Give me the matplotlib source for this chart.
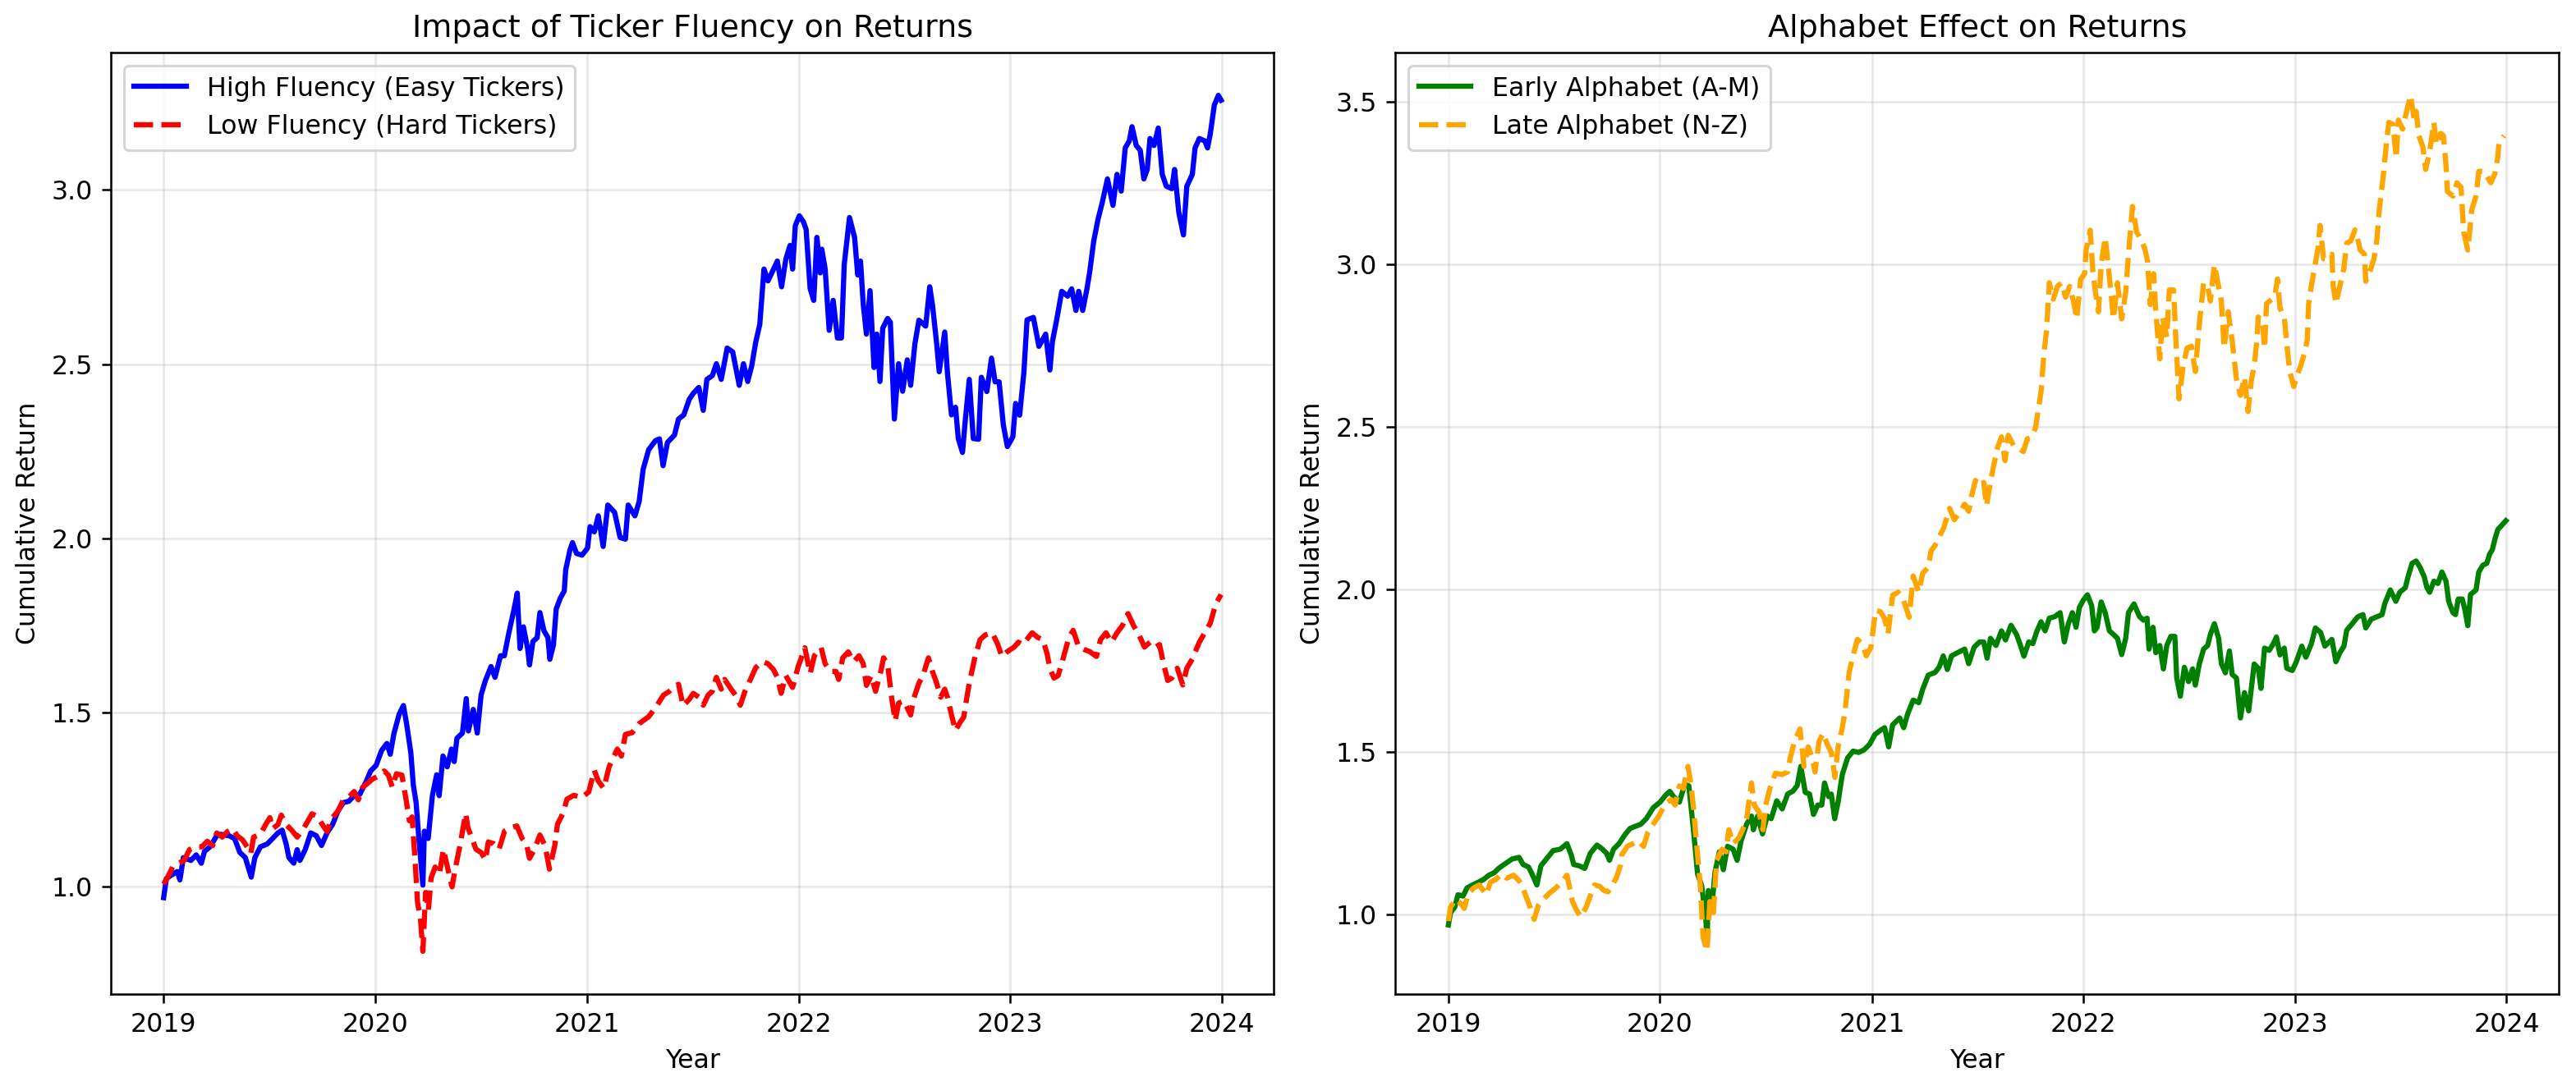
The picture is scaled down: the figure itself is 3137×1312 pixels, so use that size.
import matplotlib
matplotlib.use('Agg')
import matplotlib.pyplot as plt
import numpy as np
import pandas as pd

# values, time as decimal year
high_t = [2019.000, 2019.013, 2019.032, 2019.064, 2019.077, 2019.093, 2019.129, 2019.154, 2019.178, 2019.193,
          2019.219, 2019.251, 2019.270, 2019.309, 2019.335, 2019.360, 2019.386, 2019.414, 2019.431, 2019.457,
          2019.489, 2019.515, 2019.540, 2019.560, 2019.579, 2019.592, 2019.615, 2019.631, 2019.644, 2019.669,
          2019.695, 2019.721, 2019.746, 2019.772, 2019.798, 2019.824, 2019.849, 2019.875, 2019.900, 2019.927,
          2019.959, 2019.978, 2020.004, 2020.030, 2020.055, 2020.071, 2020.088, 2020.113, 2020.133, 2020.148,
          2020.168, 2020.180, 2020.193, 2020.206, 2020.225, 2020.232, 2020.250, 2020.270, 2020.290, 2020.302,
          2020.320, 2020.340, 2020.360, 2020.373, 2020.386, 2020.412, 2020.430, 2020.440, 2020.463, 2020.482,
          2020.500, 2020.520, 2020.547, 2020.566, 2020.592, 2020.610, 2020.630, 2020.656, 2020.671, 2020.684,
          2020.700, 2020.720, 2020.729, 2020.745, 2020.765, 2020.778, 2020.797, 2020.816, 2020.825, 2020.842,
          2020.855, 2020.874, 2020.893, 2020.900, 2020.920, 2020.932, 2020.951, 2020.977, 2021.003, 2021.015,
          2021.035, 2021.054, 2021.077, 2021.099, 2021.131, 2021.157, 2021.182, 2021.195, 2021.227, 2021.247,
          2021.266, 2021.292, 2021.324, 2021.343, 2021.360, 2021.381, 2021.414, 2021.433, 2021.458, 2021.484,
          2021.503, 2021.529, 2021.550, 2021.567, 2021.593, 2021.612, 2021.635, 2021.663, 2021.689, 2021.720,
          2021.740, 2021.760, 2021.779, 2021.798, 2021.817, 2021.837, 2021.856, 2021.882, 2021.900, 2021.920,
          2021.940, 2021.960, 2021.972, 2021.985, 2022.004, 2022.023, 2022.036, 2022.055, 2022.072, 2022.087,
          2022.103, 2022.110, 2022.126, 2022.145, 2022.164, 2022.184, 2022.203, 2022.216, 2022.241, 2022.265,
          2022.280, 2022.293, 2022.306, 2022.321, 2022.338, 2022.357, 2022.370, 2022.385, 2022.398, 2022.421,
          2022.434, 2022.453, 2022.473, 2022.492, 2022.514, 2022.530, 2022.550, 2022.569, 2022.601, 2022.620,
          2022.633, 2022.653, 2022.665, 2022.691, 2022.704, 2022.723, 2022.742, 2022.755, 2022.775, 2022.787,
          2022.807, 2022.826, 2022.851, 2022.864, 2022.890, 2022.912, 2022.929, 2022.948, 2022.968, 2022.987,
          2023.013, 2023.026, 2023.045, 2023.065, 2023.080, 2023.110, 2023.136, 2023.168, 2023.188, 2023.200,
          2023.220, 2023.244, 2023.272, 2023.291, 2023.311, 2023.324, 2023.343, 2023.363, 2023.376, 2023.395,
          2023.415, 2023.435, 2023.460, 2023.486, 2023.505, 2023.525, 2023.544, 2023.563, 2023.576, 2023.596,
          2023.615, 2023.632, 2023.648, 2023.661, 2023.680, 2023.700, 2023.719, 2023.738, 2023.764, 2023.777,
          2023.797, 2023.819, 2023.835, 2023.861, 2023.874, 2023.894, 2023.920, 2023.933, 2023.946, 2023.965,
          2023.984, 2023.997]
high_v = [0.967, 1.022, 1.030, 1.042, 1.018, 1.082, 1.074, 1.090, 1.066, 1.100,
          1.113, 1.145, 1.149, 1.145, 1.137, 1.097, 1.082, 1.026, 1.082, 1.113,
          1.121, 1.137, 1.153, 1.161, 1.121, 1.082, 1.066, 1.105, 1.074, 1.105,
          1.153, 1.145, 1.117, 1.153, 1.177, 1.216, 1.240, 1.244, 1.260, 1.264,
          1.303, 1.331, 1.347, 1.390, 1.410, 1.379, 1.438, 1.494, 1.519, 1.467,
          1.384, 1.290, 1.240, 1.137, 1.003, 1.158, 1.137, 1.260, 1.320, 1.260,
          1.374, 1.343, 1.394, 1.358, 1.425, 1.440, 1.539, 1.446, 1.508, 1.440,
          1.549, 1.590, 1.631, 1.600, 1.662, 1.662, 1.724, 1.796, 1.842, 1.683,
          1.745, 1.683, 1.636, 1.703, 1.714, 1.786, 1.734, 1.714, 1.652, 1.693,
          1.796, 1.827, 1.848, 1.909, 1.966, 1.987, 1.956, 1.951, 1.971, 2.033,
          2.018, 2.064, 1.976, 2.095, 2.074, 2.002, 1.997, 2.095, 2.064, 2.105,
          2.198, 2.254, 2.280, 2.285, 2.208, 2.275, 2.296, 2.342, 2.354, 2.399,
          2.416, 2.433, 2.367, 2.456, 2.467, 2.501, 2.456, 2.546, 2.535, 2.439,
          2.501, 2.450, 2.495, 2.563, 2.614, 2.773, 2.739, 2.773, 2.796, 2.722,
          2.801, 2.841, 2.773, 2.898, 2.926, 2.909, 2.887, 2.717, 2.683, 2.864,
          2.762, 2.830, 2.773, 2.597, 2.683, 2.575, 2.575, 2.785, 2.921, 2.864,
          2.756, 2.796, 2.671, 2.586, 2.711, 2.490, 2.586, 2.450, 2.603, 2.631,
          2.620, 2.342, 2.501, 2.422, 2.512, 2.439, 2.558, 2.626, 2.609, 2.722,
          2.671, 2.558, 2.478, 2.592, 2.473, 2.354, 2.376, 2.286, 2.246, 2.331,
          2.456, 2.286, 2.284, 2.462, 2.421, 2.517, 2.449, 2.449, 2.325, 2.263,
          2.291, 2.387, 2.353, 2.476, 2.627, 2.634, 2.551, 2.586, 2.483, 2.565,
          2.627, 2.709, 2.695, 2.716, 2.654, 2.709, 2.654, 2.716, 2.764, 2.853,
          2.915, 2.963, 3.032, 2.956, 3.045, 2.997, 3.121, 3.141, 3.182, 3.128,
          3.114, 3.032, 3.059, 3.148, 3.128, 3.178, 3.045, 3.011, 3.004, 3.059,
          2.936, 2.871, 3.011, 3.045, 3.121, 3.148, 3.141, 3.121, 3.162, 3.244,
          3.272, 3.258]

low_t = [2019.000, 2019.019, 2019.045, 2019.071, 2019.097, 2019.122, 2019.154, 2019.180, 2019.206, 2019.232,
         2019.251, 2019.277, 2019.302, 2019.328, 2019.347, 2019.373, 2019.399, 2019.412, 2019.425, 2019.457,
         2019.482, 2019.502, 2019.515, 2019.540, 2019.556, 2019.579, 2019.605, 2019.631, 2019.656, 2019.676,
         2019.701, 2019.727, 2019.746, 2019.772, 2019.792, 2019.824, 2019.849, 2019.875, 2019.900, 2019.920,
         2019.940, 2019.965, 2019.985, 2020.010, 2020.042, 2020.062, 2020.081, 2020.100, 2020.126, 2020.148,
         2020.161, 2020.174, 2020.187, 2020.200, 2020.213, 2020.225, 2020.238, 2020.251, 2020.264, 2020.283,
         2020.303, 2020.322, 2020.341, 2020.363, 2020.376, 2020.400, 2020.427, 2020.438, 2020.457, 2020.476,
         2020.502, 2020.521, 2020.534, 2020.560, 2020.585, 2020.611, 2020.643, 2020.669, 2020.694, 2020.714,
         2020.729, 2020.752, 2020.778, 2020.803, 2020.823, 2020.848, 2020.861, 2020.887, 2020.906, 2020.938,
         2020.977, 2021.009, 2021.035, 2021.054, 2021.080, 2021.105, 2021.144, 2021.163, 2021.182, 2021.214,
         2021.247, 2021.292, 2021.330, 2021.362, 2021.388, 2021.414, 2021.433, 2021.455, 2021.484, 2021.503,
         2021.529, 2021.550, 2021.573, 2021.593, 2021.612, 2021.635, 2021.651, 2021.676, 2021.702, 2021.725,
         2021.747, 2021.773, 2021.798, 2021.830, 2021.856, 2021.882, 2021.900, 2021.918, 2021.940, 2021.972,
         2021.997, 2022.030, 2022.055, 2022.075, 2022.107, 2022.126, 2022.152, 2022.177, 2022.190, 2022.209,
         2022.235, 2022.261, 2022.286, 2022.306, 2022.321, 2022.344, 2022.364, 2022.389, 2022.402, 2022.421,
         2022.441, 2022.457, 2022.473, 2022.498, 2022.530, 2022.543, 2022.569, 2022.588, 2022.614, 2022.633,
         2022.653, 2022.672, 2022.691, 2022.704, 2022.723, 2022.742, 2022.762, 2022.781, 2022.794, 2022.807,
         2022.832, 2022.858, 2022.883, 2022.916, 2022.942, 2022.961, 2022.987, 2023.019, 2023.039, 2023.058,
         2023.078, 2023.104, 2023.130, 2023.155, 2023.175, 2023.188, 2023.207, 2023.227, 2023.253, 2023.278,
         2023.298, 2023.324, 2023.350, 2023.376, 2023.408, 2023.427, 2023.453, 2023.479, 2023.505, 2023.531,
         2023.557, 2023.583, 2023.609, 2023.635, 2023.661, 2023.687, 2023.706, 2023.725, 2023.745, 2023.764,
         2023.790, 2023.816, 2023.835, 2023.861, 2023.894, 2023.920, 2023.946, 2023.972, 2023.997]
low_v = [1.006, 1.026, 1.058, 1.066, 1.074, 1.105, 1.113, 1.113, 1.129, 1.117,
         1.153, 1.141, 1.157, 1.165, 1.145, 1.133, 1.109, 1.094, 1.141, 1.149,
         1.177, 1.197, 1.165, 1.177, 1.204, 1.177, 1.161, 1.141, 1.161, 1.181,
         1.208, 1.200, 1.181, 1.157, 1.193, 1.216, 1.248, 1.256, 1.272, 1.248,
         1.284, 1.296, 1.307, 1.315, 1.331, 1.319, 1.284, 1.323, 1.319, 1.240,
         1.188, 1.199, 1.085, 0.952, 0.911, 0.813, 0.982, 0.931, 1.024, 1.055,
         1.034, 1.106, 1.055, 0.998, 1.044, 1.116, 1.209, 1.168, 1.137, 1.106,
         1.096, 1.075, 1.127, 1.122, 1.106, 1.158, 1.168, 1.173, 1.137, 1.122,
         1.080, 1.106, 1.147, 1.116, 1.049, 1.116, 1.178, 1.209, 1.250, 1.261,
         1.255, 1.271, 1.333, 1.302, 1.281, 1.343, 1.394, 1.374, 1.436, 1.441,
         1.467, 1.487, 1.518, 1.549, 1.559, 1.575, 1.580, 1.518, 1.537, 1.554,
         1.543, 1.520, 1.549, 1.560, 1.600, 1.566, 1.594, 1.571, 1.549, 1.520,
         1.560, 1.594, 1.628, 1.645, 1.639, 1.622, 1.600, 1.554, 1.605, 1.571,
         1.628, 1.685, 1.611, 1.662, 1.685, 1.639, 1.617, 1.617, 1.594, 1.656,
         1.673, 1.645, 1.662, 1.639, 1.577, 1.605, 1.560, 1.617, 1.656, 1.639,
         1.537, 1.475, 1.526, 1.532, 1.492, 1.537, 1.583, 1.605, 1.656, 1.617,
         1.583, 1.543, 1.566, 1.543, 1.492, 1.447, 1.469, 1.486, 1.537, 1.583,
         1.653, 1.708, 1.722, 1.728, 1.694, 1.660, 1.674, 1.687, 1.701, 1.694,
         1.708, 1.728, 1.715, 1.708, 1.667, 1.626, 1.598, 1.605, 1.660, 1.715,
         1.735, 1.687, 1.680, 1.674, 1.660, 1.708, 1.728, 1.701, 1.728, 1.749,
         1.783, 1.749, 1.722, 1.687, 1.701, 1.687, 1.694, 1.639, 1.591, 1.598,
         1.626, 1.578, 1.626, 1.653, 1.701, 1.728, 1.756, 1.811, 1.838]

early_t = [2019.000, 2019.010, 2019.030, 2019.045, 2019.069, 2019.088, 2019.114, 2019.140, 2019.166, 2019.191,
           2019.217, 2019.237, 2019.263, 2019.301, 2019.334, 2019.353, 2019.379, 2019.398, 2019.418, 2019.437,
           2019.463, 2019.495, 2019.528, 2019.560, 2019.580, 2019.592, 2019.618, 2019.644, 2019.670, 2019.702,
           2019.728, 2019.748, 2019.761, 2019.780, 2019.806, 2019.832, 2019.858, 2019.890, 2019.909, 2019.935,
           2019.968, 2020.000, 2020.026, 2020.046, 2020.065, 2020.091, 2020.117, 2020.136, 2020.151, 2020.164,
           2020.177, 2020.196, 2020.216, 2020.222, 2020.228, 2020.248, 2020.260, 2020.280, 2020.299, 2020.319,
           2020.345, 2020.364, 2020.383, 2020.409, 2020.432, 2020.441, 2020.461, 2020.484, 2020.506, 2020.525,
           2020.551, 2020.577, 2020.603, 2020.628, 2020.648, 2020.665, 2020.686, 2020.706, 2020.725, 2020.745,
           2020.764, 2020.777, 2020.796, 2020.809, 2020.825, 2020.841, 2020.861, 2020.886, 2020.912, 2020.938,
           2020.964, 2020.990, 2021.015, 2021.041, 2021.061, 2021.080, 2021.099, 2021.132, 2021.151, 2021.170,
           2021.196, 2021.222, 2021.241, 2021.267, 2021.299, 2021.319, 2021.338, 2021.357, 2021.377, 2021.403,
           2021.439, 2021.458, 2021.484, 2021.510, 2021.529, 2021.545, 2021.561, 2021.587, 2021.613, 2021.632,
           2021.658, 2021.684, 2021.703, 2021.719, 2021.742, 2021.761, 2021.781, 2021.800, 2021.819, 2021.839,
           2021.865, 2021.890, 2021.910, 2021.929, 2021.948, 2021.965, 2021.981, 2022.000, 2022.019, 2022.039,
           2022.052, 2022.065, 2022.084, 2022.103, 2022.123, 2022.142, 2022.161, 2022.181, 2022.200, 2022.213,
           2022.239, 2022.265, 2022.284, 2022.301, 2022.310, 2022.329, 2022.342, 2022.361, 2022.378, 2022.394,
           2022.413, 2022.432, 2022.441, 2022.458, 2022.477, 2022.497, 2022.516, 2022.529, 2022.548, 2022.568,
           2022.587, 2022.600, 2022.619, 2022.639, 2022.652, 2022.671, 2022.690, 2022.703, 2022.723, 2022.742,
           2022.761, 2022.781, 2022.807, 2022.826, 2022.839, 2022.856, 2022.878, 2022.897, 2022.912, 2022.929,
           2022.949, 2022.961, 2022.987, 2023.006, 2023.032, 2023.051, 2023.077, 2023.096, 2023.121, 2023.141,
           2023.174, 2023.193, 2023.212, 2023.231, 2023.244, 2023.270, 2023.296, 2023.321, 2023.334, 2023.360,
           2023.386, 2023.411, 2023.424, 2023.450, 2023.476, 2023.495, 2023.521, 2023.534, 2023.553, 2023.572,
           2023.591, 2023.610, 2023.623, 2023.636, 2023.656, 2023.675, 2023.694, 2023.713, 2023.726, 2023.746,
           2023.758, 2023.771, 2023.790, 2023.803, 2023.816, 2023.829, 2023.842, 2023.855, 2023.868, 2023.887,
           2023.906, 2023.919, 2023.932, 2023.945, 2023.958, 2023.977, 2023.996]
early_v = [0.968, 1.006, 1.023, 1.061, 1.057, 1.082, 1.091, 1.099, 1.108, 1.121,
           1.129, 1.142, 1.154, 1.171, 1.176, 1.154, 1.146, 1.121, 1.091, 1.150,
           1.171, 1.197, 1.201, 1.218, 1.184, 1.154, 1.150, 1.142, 1.188, 1.214,
           1.201, 1.188, 1.167, 1.201, 1.218, 1.244, 1.265, 1.273, 1.278, 1.295,
           1.329, 1.346, 1.367, 1.379, 1.362, 1.346, 1.401, 1.396, 1.303, 1.218,
           1.125, 1.091, 0.989, 0.912, 1.074, 1.048, 1.133, 1.193, 1.138, 1.210,
           1.201, 1.167, 1.227, 1.278, 1.303, 1.261, 1.303, 1.248, 1.303, 1.295,
           1.350, 1.325, 1.371, 1.380, 1.397, 1.456, 1.376, 1.371, 1.308, 1.337,
           1.337, 1.405, 1.363, 1.371, 1.295, 1.346, 1.431, 1.482, 1.503, 1.499,
           1.507, 1.524, 1.554, 1.567, 1.575, 1.516, 1.584, 1.605, 1.575, 1.618,
           1.660, 1.652, 1.694, 1.737, 1.745, 1.762, 1.796, 1.754, 1.796, 1.805,
           1.817, 1.772, 1.823, 1.839, 1.839, 1.789, 1.850, 1.828, 1.873, 1.845,
           1.890, 1.862, 1.828, 1.795, 1.839, 1.834, 1.873, 1.901, 1.873, 1.912,
           1.917, 1.929, 1.839, 1.895, 1.929, 1.884, 1.945, 1.968, 1.984, 1.951,
           1.873, 1.884, 1.962, 1.929, 1.873, 1.862, 1.850, 1.800, 1.850, 1.929,
           1.956, 1.917, 1.906, 1.912, 1.817, 1.884, 1.806, 1.828, 1.756, 1.828,
           1.856, 1.856, 1.728, 1.672, 1.761, 1.717, 1.756, 1.706, 1.772, 1.817,
           1.828, 1.862, 1.895, 1.850, 1.772, 1.744, 1.811, 1.739, 1.728, 1.605,
           1.683, 1.627, 1.771, 1.758, 1.696, 1.820, 1.813, 1.833, 1.854, 1.799,
           1.820, 1.758, 1.751, 1.778, 1.826, 1.792, 1.833, 1.882, 1.868, 1.826,
           1.847, 1.778, 1.806, 1.826, 1.875, 1.895, 1.916, 1.923, 1.882, 1.909,
           1.916, 1.923, 1.957, 1.999, 1.964, 1.992, 2.006, 2.040, 2.081, 2.088,
           2.068, 2.040, 2.006, 1.992, 2.026, 2.019, 2.054, 2.026, 1.964, 1.929,
           1.923, 1.971, 1.971, 1.937, 1.889, 1.985, 1.992, 1.999, 2.054, 2.075,
           2.081, 2.109, 2.123, 2.157, 2.185, 2.198, 2.212]

late_t = [2019.000, 2019.010, 2019.036, 2019.062, 2019.075, 2019.094, 2019.120, 2019.146, 2019.179, 2019.198,
          2019.224, 2019.250, 2019.276, 2019.308, 2019.334, 2019.347, 2019.366, 2019.386, 2019.405, 2019.424,
          2019.450, 2019.476, 2019.508, 2019.534, 2019.560, 2019.573, 2019.586, 2019.605, 2019.625, 2019.651,
          2019.670, 2019.690, 2019.715, 2019.735, 2019.754, 2019.773, 2019.793, 2019.812, 2019.819, 2019.845,
          2019.871, 2019.896, 2019.922, 2019.942, 2019.968, 2019.994, 2020.026, 2020.052, 2020.071, 2020.091,
          2020.110, 2020.132, 2020.145, 2020.158, 2020.170, 2020.190, 2020.203, 2020.222, 2020.235, 2020.252,
          2020.267, 2020.293, 2020.312, 2020.325, 2020.345, 2020.371, 2020.390, 2020.409, 2020.432, 2020.445,
          2020.467, 2020.486, 2020.499, 2020.519, 2020.545, 2020.577, 2020.603, 2020.615, 2020.635, 2020.661,
          2020.680, 2020.700, 2020.719, 2020.732, 2020.751, 2020.770, 2020.790, 2020.809, 2020.826, 2020.841,
          2020.861, 2020.874, 2020.893, 2020.912, 2020.932, 2020.957, 2020.974, 2020.996, 2021.018, 2021.041,
          2021.061, 2021.077, 2021.099, 2021.125, 2021.151, 2021.177, 2021.196, 2021.222, 2021.241, 2021.267,
          2021.280, 2021.299, 2021.340, 2021.368, 2021.390, 2021.413, 2021.439, 2021.458, 2021.471, 2021.490,
          2021.510, 2021.529, 2021.542, 2021.561, 2021.574, 2021.594, 2021.613, 2021.630, 2021.645, 2021.671,
          2021.690, 2021.716, 2021.735, 2021.755, 2021.774, 2021.787, 2021.800, 2021.813, 2021.826, 2021.839,
          2021.858, 2021.877, 2021.897, 2021.916, 2021.935, 2021.955, 2021.968, 2021.987, 2022.006, 2022.013,
          2022.032, 2022.045, 2022.058, 2022.071, 2022.084, 2022.103, 2022.116, 2022.129, 2022.142, 2022.161,
          2022.181, 2022.200, 2022.213, 2022.232, 2022.252, 2022.271, 2022.290, 2022.303, 2022.316, 2022.332,
          2022.342, 2022.361, 2022.374, 2022.394, 2022.406, 2022.426, 2022.439, 2022.452, 2022.471, 2022.490,
          2022.510, 2022.529, 2022.546, 2022.568, 2022.587, 2022.600, 2022.619, 2022.639, 2022.652, 2022.665,
          2022.684, 2022.703, 2022.723, 2022.742, 2022.761, 2022.778, 2022.794, 2022.807, 2022.820, 2022.826,
          2022.846, 2022.856, 2022.865, 2022.891, 2022.904, 2022.917, 2022.929, 2022.949, 2022.961, 2022.974,
          2022.994, 2023.010, 2023.026, 2023.045, 2023.058, 2023.064, 2023.077, 2023.090, 2023.109, 2023.118,
          2023.135, 2023.154, 2023.174, 2023.180, 2023.193, 2023.212, 2023.231, 2023.244, 2023.263, 2023.283,
          2023.293, 2023.308, 2023.328, 2023.334, 2023.353, 2023.373, 2023.386, 2023.398, 2023.418, 2023.430,
          2023.443, 2023.463, 2023.478, 2023.488, 2023.508, 2023.527, 2023.546, 2023.563, 2023.572, 2023.585,
          2023.604, 2023.617, 2023.636, 2023.656, 2023.668, 2023.688, 2023.701, 2023.713, 2023.720, 2023.746,
          2023.765, 2023.784, 2023.797, 2023.816, 2023.835, 2023.855, 2023.868, 2023.894, 2023.925, 2023.944,
          2023.957, 2023.964, 2023.987]
late_v = [0.980, 1.023, 1.048, 1.031, 1.019, 1.065, 1.082, 1.091, 1.061, 1.099,
          1.108, 1.125, 1.112, 1.121, 1.104, 1.091, 1.057, 1.023, 0.985, 1.027,
          1.048, 1.065, 1.082, 1.099, 1.121, 1.082, 1.040, 1.014, 0.993, 1.023,
          1.057, 1.091, 1.087, 1.074, 1.070, 1.091, 1.112, 1.150, 1.184, 1.210,
          1.218, 1.227, 1.210, 1.252, 1.278, 1.303, 1.341, 1.354, 1.337, 1.396,
          1.388, 1.456, 1.405, 1.329, 1.235, 1.091, 0.930, 0.887, 1.040, 1.006,
          1.167, 1.201, 1.193, 1.261, 1.218, 1.235, 1.261, 1.295, 1.405, 1.337,
          1.316, 1.261, 1.337, 1.388, 1.435, 1.431, 1.439, 1.482, 1.533, 1.571,
          1.456, 1.516, 1.482, 1.439, 1.533, 1.558, 1.524, 1.499, 1.422, 1.516,
          1.575, 1.626, 1.745, 1.796, 1.847, 1.830, 1.796, 1.822, 1.936, 1.932,
          1.911, 1.864, 1.983, 1.992, 1.966, 1.915, 2.042, 1.992, 2.051, 2.068,
          2.119, 2.136, 2.190, 2.250, 2.215, 2.235, 2.263, 2.241, 2.286, 2.336,
          2.319, 2.330, 2.258, 2.330, 2.375, 2.436, 2.470, 2.397, 2.475, 2.442,
          2.436, 2.425, 2.464, 2.470, 2.498, 2.554, 2.609, 2.721, 2.799, 2.944,
          2.894, 2.933, 2.944, 2.900, 2.933, 2.883, 2.833, 2.955, 2.972, 3.045,
          3.106, 2.978, 2.911, 2.855, 3.000, 3.084, 3.006, 2.922, 2.833, 2.944,
          2.833, 2.916, 3.033, 3.179, 3.100, 3.078, 3.050, 3.011, 2.877, 2.972,
          2.855, 2.710, 2.838, 2.777, 2.922, 2.922, 2.743, 2.587, 2.688, 2.743,
          2.749, 2.671, 2.805, 2.944, 2.933, 2.888, 3.000, 2.933, 2.888, 2.743,
          2.855, 2.766, 2.648, 2.598, 2.654, 2.548, 2.646, 2.687, 2.770, 2.839,
          2.825, 2.742, 2.880, 2.894, 2.901, 2.956, 2.866, 2.839, 2.756, 2.674,
          2.625, 2.660, 2.687, 2.729, 2.770, 2.880, 2.935, 2.983, 3.052, 3.121,
          3.018, 3.018, 3.032, 2.935, 2.880, 2.935, 2.990, 3.066, 3.073, 3.107,
          3.087, 3.045, 3.032, 2.949, 2.977, 3.018, 3.073, 3.169, 3.280, 3.362,
          3.438, 3.431, 3.328, 3.445, 3.417, 3.472, 3.521, 3.445, 3.472, 3.397,
          3.362, 3.293, 3.348, 3.438, 3.369, 3.404, 3.397, 3.307, 3.225, 3.211,
          3.252, 3.238, 3.100, 3.045, 3.169, 3.211, 3.287, 3.287, 3.252, 3.280,
          3.328, 3.376, 3.397]


def to_dates(t):
    # decimal year -> timestamps
    days = (np.asarray(t) - 2019.0) * 365.25
    return pd.Timestamp('2019-01-01') + pd.to_timedelta(days, unit='D')


DPI = 228
fig, (ax1, ax2) = plt.subplots(1, 2, figsize=(3137 / DPI, 1312 / DPI), dpi=DPI)
fig.subplots_adjust(left=0.043, right=0.9933, top=0.9512, bottom=0.077, wspace=0.1045)

# Left: ticker fluency
ax1.plot(to_dates(high_t), high_v, color='blue', linewidth=2, label='High Fluency (Easy Tickers)')
ax1.plot(to_dates(low_t), low_v, color='red', linewidth=2, linestyle='--', label='Low Fluency (Hard Tickers)')
ax1.set_title('Impact of Ticker Fluency on Returns', fontsize=12)
ax1.set_xlabel('Year')
ax1.set_ylabel('Cumulative Return')
ax1.legend(loc='upper left')
ax1.grid(True, alpha=0.3)

# Right: alphabet effect
ax2.plot(to_dates(early_t), early_v, color='green', linewidth=2, label='Early Alphabet (A-M)')
ax2.plot(to_dates(late_t), late_v, color='orange', linewidth=2, linestyle='--', label='Late Alphabet (N-Z)')
ax2.set_title('Alphabet Effect on Returns', fontsize=12)
ax2.set_xlabel('Year')
ax2.set_ylabel('Cumulative Return')
ax2.legend(loc='upper left')
ax2.grid(True, alpha=0.3)

fig.savefig('out.png', dpi=DPI)
